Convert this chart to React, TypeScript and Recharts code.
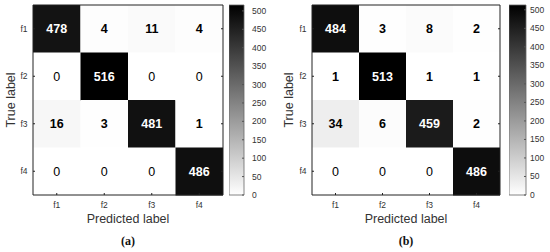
import React from 'react';
import { BarChart, Bar, XAxis, YAxis, Cell, LabelList } from 'recharts';

const predictedLabels = ['f1', 'f2', 'f3', 'f4'];
const trueLabels = ['f1', 'f2', 'f3', 'f4'];
const matrixA = [
  [478, 4, 11, 4],
  [0, 516, 0, 0],
  [16, 3, 481, 1],
  [0, 0, 0, 486],
];
const matrixB = [
  [484, 3, 8, 2],
  [1, 513, 1, 1],
  [34, 6, 459, 2],
  [0, 0, 0, 486],
];
const colorbarTicks = [0, 50, 100, 150, 200, 250, 300, 350, 400, 450, 500];
const panelTags = ['(a)', '(b)'];

const FONT = '"Liberation Sans", Arial, Helvetica, sans-serif';
const AXIS = '#222';
const TICKTEXT = '#333';

// one grid column per predicted label; each accessor gives a cell span of one column
const colCenters = predictedLabels.map((_, i) => i + 0.5);
const spanAccessors = predictedLabels.map(() => () => 1);

function grayFor(v: number, max: number) {
  const g = Math.round(255 * (1 - v / max));
  return `rgb(${g},${g},${g})`;
}

function makeCellLabel(max: number) {
  return (props: any) => {
    const vb = props.viewBox && props.viewBox.width !== undefined ? props.viewBox : props;
    const { x, y, width, height } = vb;
    const v = Number(props.value);
    return (
      <text
        x={Number(x) + Number(width) / 2}
        y={Number(y) + Number(height) / 2}
        textAnchor="middle"
        dominantBaseline="central"
        fill={v > max / 2 ? '#ffffff' : '#000000'}
        fontWeight={v ? 700 : 400}
        fontSize={12.5}
        fontFamily={FONT}
      >
        {v}
      </text>
    );
  };
}

function Matrix({ matrix, width, yAxisWidth, titleOffset }: { matrix: number[][]; width: number; yAxisWidth: number; titleOffset: number }) {
  const max = Math.max(...matrix.flat());
  const data = trueLabels.map((row, i) => {
    const d: any = { row };
    predictedLabels.forEach((_, j) => {
      d['v' + j] = matrix[i][j];
    });
    return d;
  });
  const cellLabel = makeCellLabel(max);
  return (
    <BarChart
      layout="vertical"
      width={width}
      height={252}
      data={data}
      margin={{ top: 4, right: 6, bottom: 0, left: 0 }}
      barCategoryGap={0}
      barGap={0}
    >
      <XAxis
        xAxisId="b"
        type="number"
        domain={[0, 4]}
        ticks={colCenters}
        interval={0}
        tickFormatter={(t: number) => predictedLabels[Math.floor(t)]}
        height={57}
        tickSize={-2}
        tickMargin={8.5}
        axisLine={{ stroke: AXIS }}
        tickLine={{ stroke: AXIS }}
        tick={{ fill: TICKTEXT, fontSize: 8.5 }}
        label={{ value: 'Predicted label', position: 'insideTop', offset: 19, fill: '#333', fontSize: 12.5 }}
      />
      <XAxis
        xAxisId="t"
        orientation="top"
        type="number"
        domain={[0, 4]}
        ticks={colCenters}
        interval={0}
        tickFormatter={() => ''}
        height={1}
        tickSize={-2}
        axisLine={{ stroke: AXIS }}
        tickLine={{ stroke: AXIS }}
      />
      <YAxis
        yAxisId="l"
        type="category"
        dataKey="row"
        width={yAxisWidth}
        interval={0}
        tickSize={-2}
        tickMargin={7.5}
        axisLine={{ stroke: AXIS }}
        tickLine={{ stroke: AXIS }}
        tick={{ fill: TICKTEXT, fontSize: 8.5 }}
        label={{ value: 'True label', angle: -90, position: 'insideLeft', offset: titleOffset, fill: '#333', fontSize: 12.5, style: { textAnchor: 'middle' } }}
      />
      <YAxis
        yAxisId="r"
        orientation="right"
        type="category"
        dataKey="row"
        width={1}
        interval={0}
        tickFormatter={() => ''}
        tickSize={-2}
        axisLine={{ stroke: AXIS }}
        tickLine={{ stroke: AXIS }}
      />
      {predictedLabels.map((p, j) => (
        <Bar key={p} xAxisId="b" yAxisId="l" stackId="cells" dataKey={spanAccessors[j]} isAnimationActive={false}>
          {data.map((_, i) => (
            <Cell key={i} fill={grayFor(matrix[i][j], max)} />
          ))}
          <LabelList dataKey={'v' + j} content={cellLabel} />
        </Bar>
      ))}
    </BarChart>
  );
}

function Colorbar({ matrix, width, axisWidth, tickMargin, id }: { matrix: number[][]; width: number; axisWidth: number; tickMargin: number; id: string }) {
  const max = Math.max(...matrix.flat());
  const data = [{ name: 'scale', v: max }];
  return (
    <BarChart width={width} height={252} data={data} margin={{ top: 5, right: 0, bottom: 57, left: 0 }} barCategoryGap={0}>
      <defs>
        <linearGradient id={id} x1="0" y1="0" x2="0" y2="1">
          <stop offset="0%" stopColor="#000000" />
          <stop offset="100%" stopColor="#ffffff" />
        </linearGradient>
      </defs>
      <XAxis dataKey="name" type="category" hide />
      <YAxis
        orientation="right"
        type="number"
        domain={[0, max]}
        ticks={colorbarTicks}
        interval={0}
        width={axisWidth}
        tickSize={-2}
        tickMargin={tickMargin}
        axisLine={false}
        tickLine={{ stroke: '#555' }}
        tick={{ fill: TICKTEXT, fontSize: 8.5 }}
      />
      <Bar dataKey="v" fill={`url(#${id})`} stroke="#666" strokeWidth={0.8} isAnimationActive={false} />
    </BarChart>
  );
}

const tagStyle: React.CSSProperties = {
  position: 'absolute',
  top: 234.5,
  fontFamily: '"Liberation Serif", "Times New Roman", serif',
  fontWeight: 700,
  fontSize: 12,
  lineHeight: '12px',
  textAlign: 'center',
  color: '#111',
};

export default function App() {
  return (
    <div style={{ position: 'absolute', left: 0, top: 0, width: 550, height: 252, background: '#fff', fontFamily: FONT, overflow: 'hidden' }}>
      <div style={{ position: 'absolute', left: 0, top: 0 }}>
        <Matrix matrix={matrixA} width={230} yAxisWidth={33} titleOffset={10.5} />
      </div>
      <div style={{ position: 'absolute', left: 229, top: 0 }}>
        <Colorbar matrix={matrixA} width={48} axisWidth={33} tickMargin={10} id="cbA" />
      </div>
      <div style={{ position: 'absolute', left: 275, top: 0 }}>
        <Matrix matrix={matrixB} width={232} yAxisWidth={37} titleOffset={14} />
      </div>
      <div style={{ position: 'absolute', left: 509, top: 0 }}>
        <Colorbar matrix={matrixB} width={41} axisWidth={24} tickMargin={6} id="cbB" />
      </div>
      <div style={{ ...tagStyle, left: 33, width: 190 }}>{panelTags[0]}</div>
      <div style={{ ...tagStyle, left: 312, width: 188 }}>{panelTags[1]}</div>
    </div>
  );
}
